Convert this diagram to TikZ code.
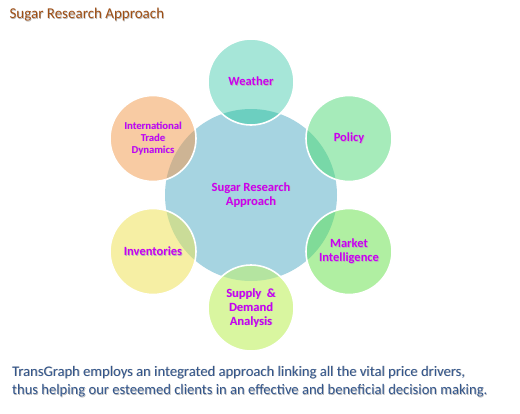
\documentclass[tikz,border=0pt]{standalone}
\usepackage{fontspec}
\setmainfont{Carlito}
\pgfdeclarelayer{bgA}
\pgfdeclarelayer{bgB}
\pgfsetlayers{bgA,bgB,main}
\definecolor{cHub}{HTML}{A6D4E1}
\definecolor{cW}{HTML}{A6E6D8}\definecolor{oW}{HTML}{6CCFC0}
\definecolor{cP}{HTML}{A6EBBA}\definecolor{oP}{HTML}{78D8A8}
\definecolor{cM}{HTML}{B0EFA2}\definecolor{oM}{HTML}{80DB98}
\definecolor{cS}{HTML}{D9F6A0}\definecolor{oS}{HTML}{B4E4A0}
\definecolor{cI}{HTML}{F6EFA4}\definecolor{oI}{HTML}{CADC98}
\definecolor{cT}{HTML}{F8CBA3}\definecolor{oT}{HTML}{CDB494}
\definecolor{labc}{HTML}{C800F0}
\definecolor{titlec}{HTML}{9E4E14}
\definecolor{bodyc}{HTML}{33568C}
\definecolor{shadc}{HTML}{B8B8B8}
\newcommand\shtx[1]{\leavevmode\rlap{\kern0.7pt\raisebox{-0.7pt}{\textcolor{shadc}{#1}}}#1}
\begin{document}
\begin{tikzpicture}[x=1pt,y=-1pt,
  hub/.style={circle,minimum size=172pt,inner sep=0pt,align=center,
    font=\fontsize{12.5}{14}\selectfont\bfseries,text=labc},
  sat/.style={circle,minimum size=86pt,inner sep=0pt,align=center,draw=white,line width=1.6pt,
    font=\fontsize{12.5}{14}\selectfont\bfseries,text=labc},
  small/.style={font=\fontsize{10.6}{12}\selectfont\bfseries}]
\useasboundingbox (0,0) rectangle (520,413);
\node[hub] (c) at (251,195) {\shtx{Sugar Research}\\\shtx{Approach}};
\node[sat] (w) at (251,82) {\shtx{Weather}};
\node[sat] (p) at (349,138.5) {\shtx{Policy}};
\node[sat] (m) at (349,251.5) {\shtx{Market}\\\shtx{Intelligence}};
\node[sat] (s) at (251,308) {\shtx{Supply\ \ \&}\\\shtx{Demand}\\\shtx{Analysis}};
\node[sat] (i) at (153,251.5) {\shtx{Inventories}};
\node[sat,small] (t) at (153,138.5) {\shtx{International}\\\shtx{Trade}\\\shtx{Dynamics}};
\begin{pgfonlayer}{bgA}
\fill[white] (0,0) rectangle (520,413);
\fill[cHub] (c.center) circle[radius=86pt];
\end{pgfonlayer}
\begin{pgfonlayer}{bgB}
\foreach \n/\cc/\oc in {w/cW/oW,p/cP/oP,m/cM/oM,s/cS/oS,i/cI/oI,t/cT/oT}{
  \fill[\cc] (\n.center) circle[radius=43pt];
  \begin{scope}
    \clip (c.center) circle[radius=86pt];
    \fill[\oc] (\n.center) circle[radius=43pt];
  \end{scope}
}
\end{pgfonlayer}
\node[anchor=west,text=titlec,font=\fontsize{15}{18}\selectfont] (title) at (6,15) {\shtx{Sugar Research Approach}};
\node[anchor=west,align=left,inner sep=0pt,text=bodyc,font=\fontsize{14.6}{18.5}\selectfont] (body) at (12,382)
 {\shtx{TransGraph employs an integrated approach linking all the vital price drivers,}\\
  \shtx{thus helping our esteemed clients in an effective and beneficial decision making.}};
\end{tikzpicture}
\end{document}
